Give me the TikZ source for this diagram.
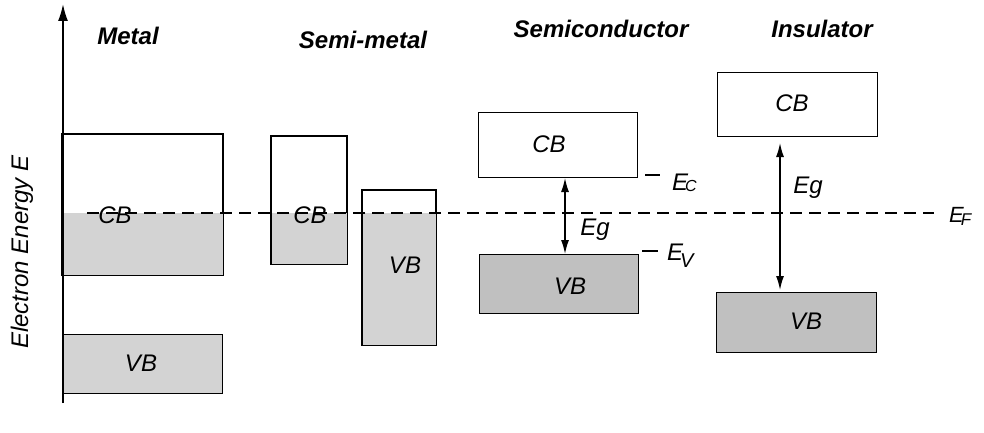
\documentclass[tikz,border=0pt]{standalone}
\usepackage{fontspec}
\setmainfont{Liberation Sans}
\usetikzlibrary{arrows.meta}
\definecolor{lightfill}{HTML}{D3D3D3}
\definecolor{darkfill}{HTML}{C0C0C0}
\newcommand{\fsz}[1]{\fontsize{#1}{#1}\selectfont}
\begin{document}
\begin{tikzpicture}[x=1pt,y=-1pt,
  band/.style={draw=black, line width=1.4pt, inner sep=0pt, anchor=north west},
  title/.style={font=\fsz{24}\bfseries\itshape},
  lbl/.style={font=\fsz{24}\itshape},
  gaparrow/.style={line width=1.4pt, {Latex[length=14pt,width=8pt]}-{Latex[length=14pt,width=8pt]}},
  fermi/.style={line width=1.4pt, dash pattern=on 12pt off 7pt},
  tick/.style={line width=1.2pt}]
\useasboundingbox (0,0) rectangle (984,433);

% boxes (geometry)
\node[band, minimum width=160pt, minimum height=140pt] (mCB) at (62,134) {};
\node[band, fill=lightfill, minimum width=160pt, minimum height=59pt] (mVB) at (62,334) {};
\node[band, minimum width=75pt, minimum height=127pt] (smCB) at (271,136) {};
\node[band, minimum width=73pt, minimum height=154pt] (smVB) at (362,190) {};
\node[band, minimum width=159pt, minimum height=65pt] (scCB) at (478,112) {};
\node[band, fill=darkfill, minimum width=159pt, minimum height=59pt] (scVB) at (479,254) {};
\node[band, minimum width=160pt, minimum height=64pt] (inCB) at (717,72) {};
\node[band, fill=darkfill, minimum width=160pt, minimum height=60pt] (inVB) at (716,292) {};

% partial fillings up to the Fermi level
\coordinate (ef) at (0,213);
\fill[lightfill] (mCB.west |- ef) rectangle (mCB.south east);
\fill[lightfill] (smCB.west |- ef) rectangle (smCB.south east);
\fill[lightfill] (smVB.west |- ef) rectangle (smVB.south east);

% Fermi level
\coordinate (efL) at (87,213);
\coordinate (efR) at (934,213);
\draw[fermi] (efL) -- (efR);

% redraw outlines on top
\foreach \n in {mCB,smCB,smVB} {\draw[line width=1.4pt] (\n.north west) rectangle (\n.south east);}

% axis
\coordinate (axB) at (63,403);
\coordinate (axT) at (63,4);
\draw[line width=1.8pt, -{Latex[length=17pt,width=10pt]}] (axB) -- (axT);
\node[lbl, rotate=90] (axlbl) at (22,252) {Electron Energy E};

% titles
\node[title] (tM) at (128,36) {Metal};
\node[title] (tSM) at (363,40) {Semi-metal};
\node[title] (tSC) at (601,29) {Semiconductor};
\node[title] (tI) at (822,29) {Insulator};

% band labels
\node[lbl] (lmCB) at (115,215) {CB};
\node[lbl] (lmVB) at (141,363) {VB};
\node[lbl] (lsmCB) at (310,215) {CB};
\node[lbl] (lsmVB) at (405,265) {VB};
\node[lbl] (lscCB) at (549,144) {CB};
\node[lbl] (lscVB) at (570,286) {VB};
\node[lbl] (linCB) at (792,103) {CB};
\node[lbl] (linVB) at (806,321) {VB};

% gap arrows
\coordinate (sct) at (565,178);
\coordinate (scb) at (565,254);
\coordinate (int) at (780,143);
\coordinate (inb) at (780,290);
\draw[gaparrow] (sct) -- (scb);
\draw[gaparrow] (int) -- (inb);
\node[lbl] (egSC) at (595,230) {Eg};
\node[lbl] (egIN) at (808,188) {Eg};

% Ec, Ev ticks and labels
\coordinate (ec1) at (645,175); \coordinate (ec2) at (660,175);
\coordinate (ev1) at (642,251); \coordinate (ev2) at (658,251);
\draw[tick] (ec1) -- (ec2);
\draw[tick] (ev1) -- (ev2);
\node[anchor=base west, inner sep=0pt, font=\itshape] (lEC) at (672,190) {\fsz{24}E\kern-3pt\raisebox{-1pt}{\fsz{16}C}};
\node[anchor=base west, inner sep=0pt, font=\itshape] (lEV) at (667,260) {\fsz{24}E\kern-3pt\raisebox{-7pt}{\fsz{20}V}};
\node[anchor=base west, inner sep=0pt, font=\itshape] (lEF) at (949,222) {\fsz{22}E\kern-3pt\raisebox{-3pt}{\fsz{17}F}};
\end{tikzpicture}
\end{document}
